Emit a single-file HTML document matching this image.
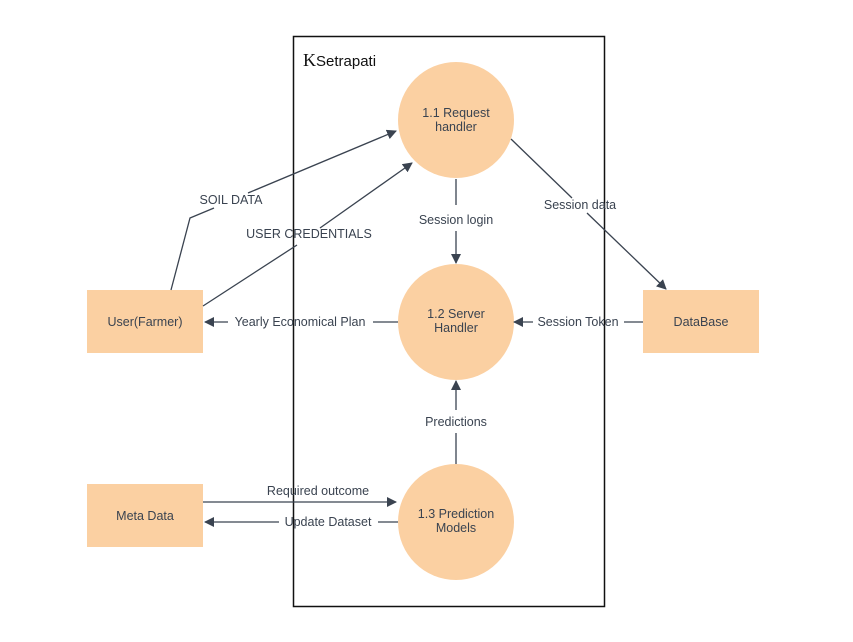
<!DOCTYPE html>
<html><head><meta charset="utf-8"><style>
html,body{margin:0;padding:0;background:#fff;width:853px;height:642px;overflow:hidden}
text{font-family:"Liberation Sans","DejaVu Sans",sans-serif;font-size:12.5px;fill:#3a4350}
</style></head><body>
<svg width="853" height="642" viewBox="0 0 853 642" xmlns="http://www.w3.org/2000/svg">
<defs><marker id="a" markerWidth="10" markerHeight="10" refX="9" refY="5" orient="auto" markerUnits="userSpaceOnUse"><path d="M0,0 L10,5 L0,10 z" fill="#3a4350"/></marker></defs>
<rect x="293.5" y="36.5" width="311" height="570" fill="none" stroke="#111" stroke-width="1.5"/>
<text x="303" y="66" style="font-family:'Liberation Serif',serif;font-size:18px;fill:#111">K</text>
<text x="316" y="66" style="font-size:15px;fill:#111">Setrapati</text>
<g fill="#fbd0a2">
<circle cx="456" cy="120" r="58"/><circle cx="456" cy="322" r="58"/><circle cx="456" cy="522" r="58"/>
<rect x="87" y="290" width="116" height="63"/><rect x="643" y="290" width="116" height="63"/><rect x="87" y="484" width="116" height="63"/>
</g>
<g stroke="#3a4350" stroke-width="1.3" fill="none">
<polyline points="171,290 190,218 214,208"/>
<line x1="248" y1="193" x2="396" y2="131" marker-end="url(#a)"/>
<line x1="203" y1="306" x2="297" y2="245"/>
<line x1="320" y1="228" x2="412" y2="163" marker-end="url(#a)"/>
<line x1="511" y1="139" x2="572" y2="198"/>
<line x1="587" y1="213" x2="666" y2="289" marker-end="url(#a)"/>
<line x1="456" y1="179" x2="456" y2="205"/>
<line x1="456" y1="231" x2="456" y2="263" marker-end="url(#a)"/>
<line x1="643" y1="322" x2="624" y2="322"/>
<line x1="533" y1="322" x2="514" y2="322" marker-end="url(#a)"/>
<line x1="398" y1="322" x2="373" y2="322"/>
<line x1="228" y1="322" x2="205" y2="322" marker-end="url(#a)"/>
<line x1="456" y1="464" x2="456" y2="433"/>
<line x1="456" y1="410" x2="456" y2="381" marker-end="url(#a)"/>
<line x1="203" y1="502" x2="396" y2="502" marker-end="url(#a)"/>
<line x1="398" y1="522" x2="378" y2="522"/>
<line x1="279" y1="522" x2="205" y2="522" marker-end="url(#a)"/>
</g>
<g text-anchor="middle">
<text x="456" y="117">1.1 Request</text><text x="456" y="131">handler</text>
<text x="456" y="318">1.2 Server</text><text x="456" y="332">Handler</text>
<text x="456" y="518">1.3 Prediction</text><text x="456" y="532">Models</text>
<text x="145" y="326">User(Farmer)</text>
<text x="701" y="326">DataBase</text>
<text x="145" y="520">Meta Data</text>
<text x="231" y="204">SOIL DATA</text>
<text x="309" y="238">USER CREDENTIALS</text>
<text x="580" y="209">Session data</text>
<text x="456" y="224">Session login</text>
<text x="578" y="326">Session Token</text>
<text x="300" y="326">Yearly Economical Plan</text>
<text x="456" y="426">Predictions</text>
<text x="318" y="495">Required outcome</text>
<text x="328" y="526">Update Dataset</text>
</g>
</svg>
</body></html>
